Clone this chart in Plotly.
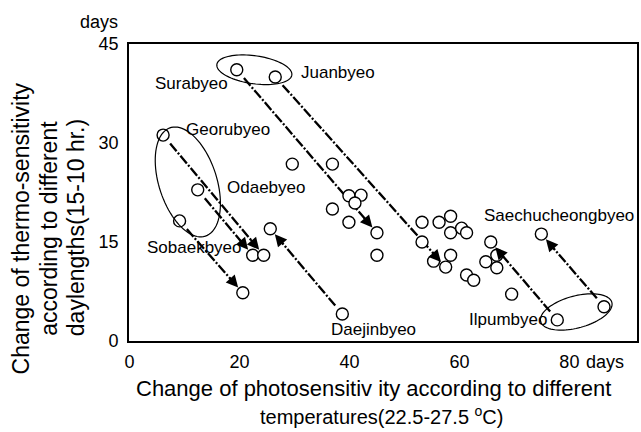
import numpy as np
import plotly.graph_objects as go

# ---------------- data ----------------
photo_days = [19.5, 26.5, 6.1, 12.4, 9.1, 22.4, 24.4, 25.6, 20.6, 38.7,
              29.6, 36.9, 39.9, 42.1, 41.0, 36.9, 39.9, 45.0, 45.0, 53.2,
              56.3, 58.4, 58.4, 60.4, 61.3, 53.2, 58.4, 55.3, 57.5, 61.3,
              62.6, 65.7, 64.8, 66.8, 66.8, 69.5, 74.9, 77.8, 86.3]
thermo_days = [41.1, 40.0, 31.2, 22.9, 18.2, 13.0, 13.0, 17.0, 7.3, 4.1,
               26.8, 26.8, 22.0, 22.1, 20.9, 20.0, 18.0, 16.4, 13.0, 18.0,
               18.0, 18.9, 16.4, 17.1, 16.4, 15.0, 13.0, 12.1, 11.2, 10.0,
               9.2, 15.0, 12.0, 11.1, 13.0, 7.1, 16.2, 3.2, 5.2]
# named cultivars: point index -> name
cultivar_names = {0: "Surabyeo", 1: "Juanbyeo", 2: "Georubyeo", 3: "Odaebyeo",
                  4: "Sobaekbyeo", 9: "Daejinbyeo", 36: "Saechucheongbyeo",
                  37: "Ilpumbyeo"}
# arrows: from point index -> to point index
arrow_from = [2, 3, 4, 9, 0, 1, 37, 38]
arrow_to = [6, 5, 8, 7, 17, 28, 31, 36]
x_ticks = [0, 20, 40, 60, 80]
y_ticks = [0, 15, 30, 45]
y_title_lines = ["Change of thermo-sensitivity", "according to different", "daylengths(15-10 hr.)"]
x_title_lines = ["Change of photosensitiv ity according to different",
                 "temperatures(22.5-27.5 <sup>o</sup>C)"]

# ---------------- layout geometry ----------------
W, H = 641, 432
ML, MR, MT, MB = 129, 2, 44, 91
PW, PH = W - ML - MR, H - MT - MB
XR = [-0.1, 92.3]
YR = [0, 45]
SX = PW / (XR[1] - XR[0])
SY = PH / (YR[1] - YR[0])

FONT = "Arial, 'Liberation Sans', sans-serif"


def px_to_paper(px, py):
    return (px - ML) / PW, (MT + PH - py) / PH


# label offsets in pixels (dx right, dy up) from the labelled point
label_shift = {0: (-45, -14), 1: (63, 5), 2: (65, 6), 3: (68, 2), 4: (15, -27),
               9: (31, -16), 36: (18, 19), 37: (-49, 0)}

fig = go.Figure()

# dashed arrow shafts with arrowheads
for i, j in zip(arrow_from, arrow_to):
    x1, y1 = photo_days[i], thermo_days[i]
    x2, y2 = photo_days[j], thermo_days[j]
    dxp, dyp = (x2 - x1) * SX, (y2 - y1) * SY
    n = np.hypot(dxp, dyp)
    ux, uy = dxp / n, dyp / n
    g1, g2 = 11, 15
    xs = [x1 + ux * g1 / SX, x2 - ux * g2 / SX]
    ys = [y1 + uy * g1 / SY, y2 - uy * g2 / SY]
    fig.add_trace(go.Scatter(x=xs, y=ys, mode="lines",
                             line=dict(color="black", width=2.3, dash="10px,2px,2px,2px"),
                             hoverinfo="skip", showlegend=False))
    fig.add_annotation(x=x2, y=y2, ax=-ux * 22, ay=uy * 22, xref="x", yref="y",
                       showarrow=True, arrowhead=2, arrowsize=1.2, arrowwidth=2,
                       arrowcolor="black", standoff=7, text="")


# ellipses grouping cultivars
def ellipse_path(cx, cy, a, b, ang):
    t = np.linspace(0, 2 * np.pi, 90)
    th = np.deg2rad(ang)
    ux, uy = np.cos(th), np.sin(th)
    vx, vy = -uy, ux
    px = a * np.cos(t) * ux + b * np.sin(t) * vx
    py = a * np.cos(t) * uy + b * np.sin(t) * vy
    xs = cx + px / SX
    ys = cy + py / SY
    return "M " + " L ".join(f"{x:.3f},{y:.3f}" for x, y in zip(xs, ys)) + " Z"


ellipses = [(22.7, 41.1, 38, 14, -8), (10.6, 24.1, 57, 29, -72), (81.25, 4.4, 37, 16, 15)]
for cx, cy, a, b, ang in ellipses:
    fig.add_shape(type="path", path=ellipse_path(cx, cy, a, b, ang), xref="x", yref="y",
                  line=dict(color="black", width=1.2))

# points
fig.add_trace(go.Scatter(x=photo_days, y=thermo_days, mode="markers",
                         marker=dict(size=12, color="white",
                                     line=dict(color="black", width=1.4)),
                         showlegend=False))

# cultivar labels
for idx, name in cultivar_names.items():
    dx, dy = label_shift[idx]
    fig.add_annotation(x=photo_days[idx], y=thermo_days[idx], xref="x", yref="y",
                       text=name, showarrow=False, xshift=dx, yshift=dy,
                       xanchor="center", yanchor="middle",
                       font=dict(size=17, color="black", family=FONT))


# axis titles and unit labels
def paper_text(px, py, text, size, angle=0):
    xp, yp = px_to_paper(px, py)
    fig.add_annotation(x=xp, y=yp, xref="paper", yref="paper", text=text,
                       textangle=angle, showarrow=False, xanchor="center", yanchor="middle",
                       font=dict(size=size, color="black", family=FONT))


for k, line in enumerate(y_title_lines):
    paper_text(21 + 27.5 * k, 228, line, 23, -90)
paper_text(374, 388, x_title_lines[0], 22)
paper_text(382, 415, x_title_lines[1], 20)
paper_text(99, 22, "days", 18)
paper_text(607, 362, "days", 18)

fig.update_layout(
    width=W, height=H,
    margin=dict(l=ML, r=MR, t=MT, b=MB, pad=0),
    paper_bgcolor="white", plot_bgcolor="white",
    font=dict(family=FONT, color="black", size=18),
    showlegend=False,
    xaxis=dict(range=XR, tickvals=x_ticks, showgrid=False, zeroline=False,
               showline=True, linecolor="black", linewidth=1.6, mirror=True,
               ticks="", ticklabelstandoff=4, tickfont=dict(size=18)),
    yaxis=dict(range=YR, tickvals=y_ticks, showgrid=False, zeroline=False,
               showline=True, linecolor="black", linewidth=1.6, mirror=True,
               ticks="", ticklabelstandoff=5, tickfont=dict(size=18)),
)

fig.write_html("out.html")
